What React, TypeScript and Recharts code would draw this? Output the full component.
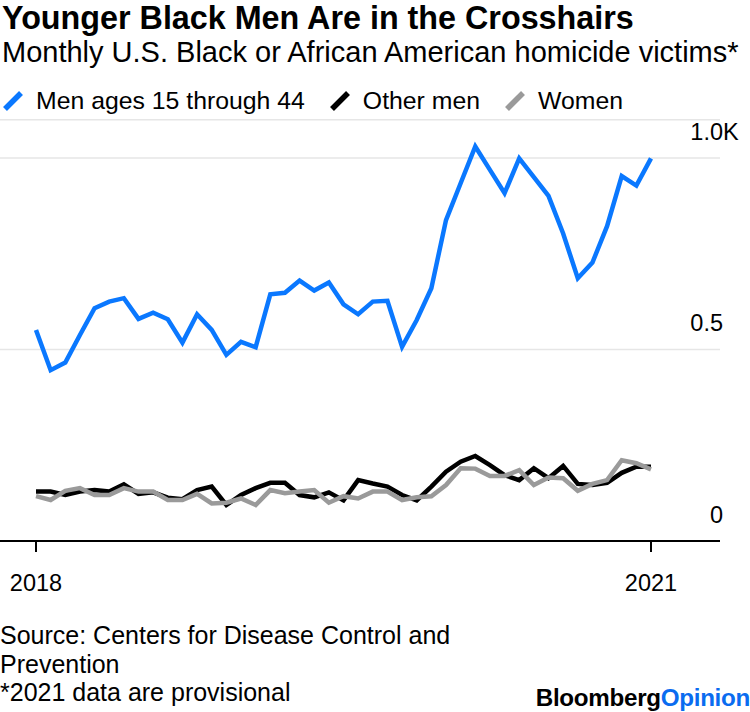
import React from "react";
import { LineChart, Line, XAxis, YAxis, CartesianGrid } from "recharts";

const FONT = '"Liberation Sans", Arial, Helvetica, sans-serif';

// Monthly homicide victims (43 monthly points, 2018 -> 2021)
const menYoung = [551, 446, 466, 538, 608, 625, 634, 580, 596, 579, 518, 592, 551, 486, 520, 506, 644, 648, 680, 654, 675, 618, 592, 625, 627, 507, 577, 660, 838, 934, 1030, 969, 908, 999, 950, 901, 803, 686, 727, 822, 953, 928, 999];
const otherMen = [129, 129, 120, 129, 133, 129, 148, 123, 127, 113, 109, 133, 142, 94, 120, 138, 152, 152, 120, 114, 127, 106, 159, 150, 142, 120, 106, 142, 181, 207, 222, 198, 172, 159, 190, 164, 196, 149, 146, 152, 178, 194, 194];
const women = [117, 107, 131, 138, 120, 120, 138, 129, 129, 107, 107, 123, 98, 100, 111, 94, 133, 125, 129, 133, 100, 117, 111, 129, 129, 107, 114, 117, 146, 190, 189, 170, 170, 185, 146, 166, 164, 131, 149, 159, 211, 203, 187];

const xTicks = [0, 42];
const xTickLabels = ["2018", "2021"];
const yTicks = [0, 500, 1000];
const yTickLabels = ["0", "0.5", "1.0K"];
const yDomain = [0, 1100];

const seriesNames = ["Men ages 15 through 44", "Other men", "Women"];
const seriesKeys = ["young", "other", "women"];
const seriesColors = ["#0a78ff", "#000000", "#9a9a9a"];

const title = "Younger Black Men Are in the Crosshairs";
const subtitle = "Monthly U.S. Black or African American homicide victims*";
const sourceLines = ["Source: Centers for Disease Control and", "Prevention", "*2021 data are provisional"];

const AXIS_LABEL_SIZE = 23.5;

const XTick = (props: any) => {
  const { x, payload } = props;
  const idx = xTicks.indexOf(payload.value);
  return (
    <text x={x} y={591} textAnchor="middle" fontSize={AXIS_LABEL_SIZE} fontFamily={FONT} fill="#000">
      {xTickLabels[idx]}
    </text>
  );
};

const YTick = (props: any) => {
  const { y, payload } = props;
  const idx = yTicks.indexOf(payload.value);
  const label = yTickLabels[idx] || "";
  const hasK = label.endsWith("K");
  const num = hasK ? label.slice(0, -1) : label;
  return (
    <g>
      <text x={723} y={y - 18.5} textAnchor="end" fontSize={AXIS_LABEL_SIZE} fontFamily={FONT} fill="#000">
        {num}
      </text>
      {hasK && (
        <text x={723} y={y - 18.5} textAnchor="start" fontSize={AXIS_LABEL_SIZE} fontFamily={FONT} fill="#000">
          K
        </text>
      )}
    </g>
  );
};

const LegendIcon = ({ color }: { color: string }) => (
  <svg width={22} height={22} style={{ display: "block" }}>
    <line x1={3} y1={19} x2={19} y2={3} stroke={color} strokeWidth={5.5} />
  </svg>
);

export default function App() {
  const data = menYoung.map((v, i) => ({ i, young: v, other: otherMen[i], women: women[i] }));
  return (
    <div style={{ position: "relative", width: 750, height: 712, background: "#fff", fontFamily: FONT, color: "#000", overflow: "hidden" }}>
      <style>{`body{margin:0;}`}</style>
      <div style={{ position: "absolute", left: 0, top: 0 }}>
        <LineChart width={750} height={600} data={data} margin={{ top: 119.7, right: 0, left: 0, bottom: 9 }}>
          <CartesianGrid horizontal={true} vertical={false} stroke="#e6e6e6" strokeWidth={1.5} />
          <XAxis
            dataKey="i"
            type="number"
            domain={[0, 42]}
            ticks={xTicks}
            padding={{ left: 36, right: 69 }}
            height={50}
            axisLine={{ stroke: "#000", strokeWidth: 2 }}
            tickLine={{ stroke: "#000", strokeWidth: 2 }}
            tickSize={11}
            tick={<XTick />}
            interval={0}
          />
          <YAxis
            orientation="right"
            width={30}
            domain={yDomain}
            ticks={yTicks}
            axisLine={false}
            tickLine={false}
            tick={<YTick />}
            interval={0}
          />
          <Line dataKey="other" stroke={seriesColors[1]} strokeWidth={4.5} dot={false} isAnimationActive={false} type="linear" />
          <Line dataKey="women" stroke={seriesColors[2]} strokeWidth={4.5} dot={false} isAnimationActive={false} type="linear" />
          <Line dataKey="young" stroke={seriesColors[0]} strokeWidth={4.5} dot={false} isAnimationActive={false} type="linear" />
        </LineChart>
      </div>

      <svg width={750} height={712} style={{ position: "absolute", left: 0, top: 0, pointerEvents: "none" }}>
        <text x={2} y={29} fontSize={32.3} fontWeight={700} fontFamily={FONT} fill="#000">{title}</text>
        <text x={2} y={62} fontSize={29} fontFamily={FONT} fill="#000">{subtitle}</text>
        {sourceLines.map((l, k) => (
          <text key={k} x={0} y={644 + k * 28.7} fontSize={25} fontFamily={FONT} fill="#000">{l}</text>
        ))}
        <text x={750} y={706} textAnchor="end" fontSize={24.2} fontWeight={700} fontFamily={FONT} letterSpacing={-0.3}>
          <tspan fill="#000">Bloomberg</tspan>
          <tspan fill="#0a6cf0">Opinion</tspan>
        </text>
      </svg>

      <div style={{ position: "absolute", left: 2, top: 89, display: "flex", alignItems: "center", fontSize: 24.8, lineHeight: "24px" }}>
        {seriesNames.map((n, k) => (
          <div key={seriesKeys[k]} style={{ display: "flex", alignItems: "center", marginRight: 24 }}>
            <LegendIcon color={seriesColors[k]} />
            <span style={{ marginLeft: 12 }}>{n}</span>
          </div>
        ))}
      </div>
    </div>
  );
}
